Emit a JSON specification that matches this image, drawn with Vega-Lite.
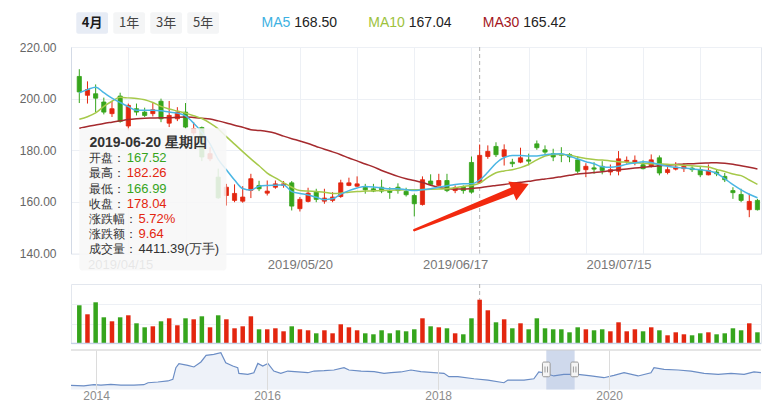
{
"$schema": "https://vega.github.io/schema/vega-lite/v6.json",
"padding": {"left": 18, "top": 0, "right": 0, "bottom": 0},
"spacing": 0,
"bounds": "flush",
"config": {"view": {"stroke": null}, "font": "Liberation Sans"},
"datasets": {
"k": [
{"d":"2019/04/08","o":208.6,"h":211.4,"l":198.3,"c":202.6,"v":3846,"m5":202.3,"m10":192.0,"m30":188.5},
{"d":"2019/04/09","o":201.3,"h":206.7,"l":198.1,"c":203.5,"v":2935,"m5":203.5,"m10":193.0,"m30":189.2},
{"d":"2019/04/10","o":201.9,"h":205.5,"l":194.8,"c":200.2,"v":4149,"m5":204.4,"m10":194.5,"m30":189.8},
{"d":"2019/04/11","o":198.7,"h":200.4,"l":193.9,"c":194.8,"v":2631,"m5":202.3,"m10":197.0,"m30":190.4},
{"d":"2019/04/12","o":194.2,"h":199.1,"l":192.9,"c":196.1,"v":2226,"m5":200.2,"m10":199.0,"m30":190.9},
{"d":"2019/04/15","o":201.0,"h":202.3,"l":190.7,"c":191.2,"v":2631,"m5":198.5,"m10":200.5,"m30":191.4},
{"d":"2019/04/16","o":189.4,"h":198.1,"l":187.7,"c":197.4,"v":2834,"m5":196.9,"m10":200.3,"m30":191.9},
{"d":"2019/04/17","o":196.1,"h":198.1,"l":193.5,"c":194.8,"v":2024,"m5":195.5,"m10":200.1,"m30":192.2},
{"d":"2019/04/18","o":194.8,"h":196.5,"l":192.9,"c":193.5,"v":1619,"m5":195.5,"m10":199.6,"m30":192.4},
{"d":"2019/04/19","o":194.2,"h":198.3,"l":193.1,"c":195.7,"v":1720,"m5":195.5,"m10":198.5,"m30":192.5},
{"d":"2019/04/22","o":199.0,"h":200.0,"l":190.9,"c":192.2,"v":2226,"m5":195.3,"m10":197.0,"m30":192.6},
{"d":"2019/04/23","o":190.5,"h":199.1,"l":189.0,"c":193.5,"v":2530,"m5":194.8,"m10":196.0,"m30":192.6},
{"d":"2019/04/24","o":192.2,"h":196.7,"l":191.3,"c":194.8,"v":1822,"m5":194.4,"m10":195.2,"m30":192.8},
{"d":"2019/04/25","o":194.8,"h":198.3,"l":188.4,"c":189.0,"v":2530,"m5":193.3,"m10":194.4,"m30":192.9},
{"d":"2019/04/26","o":186.7,"h":190.9,"l":185.8,"c":188.4,"v":2429,"m5":190.5,"m10":193.4,"m30":192.7},
{"d":"2019/04/29","o":188.8,"h":189.2,"l":175.8,"c":177.4,"v":2732,"m5":187.0,"m10":192.3,"m30":192.4},
{"d":"2019/04/30","o":176.7,"h":181.2,"l":175.8,"c":178.7,"v":1619,"m5":182.5,"m10":190.5,"m30":192.1},
{"d":"2019/05/06","o":169.6,"h":172.9,"l":161.2,"c":161.6,"v":2834,"m5":176.5,"m10":188.3,"m30":191.4},
{"d":"2019/05/07","o":162.5,"h":167.0,"l":158.6,"c":165.7,"v":2429,"m5":172.5,"m10":185.3,"m30":190.6},
{"d":"2019/05/08","o":160.6,"h":166.8,"l":159.9,"c":163.3,"v":1518,"m5":168.5,"m10":182.4,"m30":189.7},
{"d":"2019/05/09","o":160.3,"h":166.1,"l":159.7,"c":161.9,"v":1720,"m5":165.2,"m10":179.5,"m30":188.9},
{"d":"2019/05/10","o":164.5,"h":170.9,"l":161.5,"c":169.0,"v":2732,"m5":164.6,"m10":176.7,"m30":188.0},
{"d":"2019/05/13","o":166.4,"h":168.2,"l":164.2,"c":165.1,"v":1417,"m5":166.1,"m10":174.0,"m30":187.7},
{"d":"2019/05/14","o":163.4,"h":168.3,"l":162.5,"c":164.2,"v":1417,"m5":166.4,"m10":171.2,"m30":187.3},
{"d":"2019/05/15","o":165.7,"h":168.3,"l":165.1,"c":167.0,"v":1518,"m5":166.5,"m10":169.3,"m30":186.6},
{"d":"2019/05/16","o":166.4,"h":168.1,"l":165.5,"c":167.0,"v":1214,"m5":166.6,"m10":167.5,"m30":185.5},
{"d":"2019/05/17","o":167.4,"h":168.1,"l":156.7,"c":158.4,"v":1720,"m5":164.0,"m10":165.7,"m30":184.5},
{"d":"2019/05/20","o":157.4,"h":161.9,"l":156.3,"c":161.0,"v":1417,"m5":163.3,"m10":164.4,"m30":183.6},
{"d":"2019/05/21","o":160.2,"h":165.5,"l":159.8,"c":163.4,"v":1316,"m5":162.7,"m10":164.2,"m30":182.6},
{"d":"2019/05/22","o":163.8,"h":165.1,"l":159.9,"c":161.0,"v":1012,"m5":161.8,"m10":164.0,"m30":181.5},
{"d":"2019/05/23","o":160.3,"h":165.1,"l":159.3,"c":161.5,"v":1316,"m5":160.9,"m10":163.8,"m30":180.4},
{"d":"2019/05/24","o":160.6,"h":163.8,"l":159.9,"c":161.9,"v":1012,"m5":161.2,"m10":163.3,"m30":179.4},
{"d":"2019/05/27","o":162.1,"h":168.6,"l":161.6,"c":167.4,"v":1923,"m5":163.0,"m10":163.4,"m30":178.3},
{"d":"2019/05/28","o":166.4,"h":169.4,"l":166.1,"c":167.4,"v":1619,"m5":164.4,"m10":163.8,"m30":177.0},
{"d":"2019/05/29","o":166.1,"h":169.9,"l":165.7,"c":167.0,"v":1316,"m5":165.4,"m10":164.0,"m30":175.9},
{"d":"2019/05/30","o":165.7,"h":167.0,"l":163.2,"c":164.7,"v":1012,"m5":166.0,"m10":164.2,"m30":174.7},
{"d":"2019/05/31","o":165.1,"h":167.0,"l":163.8,"c":164.2,"v":911,"m5":165.8,"m10":164.3,"m30":173.6},
{"d":"2019/06/03","o":165.7,"h":168.6,"l":163.4,"c":164.2,"v":1316,"m5":165.4,"m10":164.4,"m30":172.2},
{"d":"2019/06/04","o":164.2,"h":165.7,"l":161.2,"c":163.7,"v":1012,"m5":165.1,"m10":164.5,"m30":171.0},
{"d":"2019/06/05","o":165.7,"h":167.2,"l":163.2,"c":164.4,"v":1316,"m5":165.1,"m10":164.6,"m30":169.9},
{"d":"2019/06/06","o":164.1,"h":165.5,"l":162.1,"c":162.8,"v":1214,"m5":164.7,"m10":164.7,"m30":169.0},
{"d":"2019/06/10","o":162.5,"h":163.2,"l":154.4,"c":159.3,"v":1417,"m5":164.4,"m10":164.7,"m30":168.3},
{"d":"2019/06/11","o":159.0,"h":169.9,"l":158.6,"c":168.6,"v":2530,"m5":164.7,"m10":164.8,"m30":167.5},
{"d":"2019/06/12","o":168.1,"h":170.7,"l":166.4,"c":166.8,"v":1720,"m5":165.1,"m10":164.9,"m30":166.5},
{"d":"2019/06/13","o":166.4,"h":170.9,"l":166.0,"c":168.3,"v":1619,"m5":165.7,"m10":165.0,"m30":165.6},
{"d":"2019/06/14","o":168.3,"h":170.9,"l":163.8,"c":164.4,"v":1518,"m5":166.3,"m10":165.1,"m30":165.2},
{"d":"2019/06/17","o":164.4,"h":166.4,"l":163.4,"c":165.5,"v":1012,"m5":166.8,"m10":165.5,"m30":165.0},
{"d":"2019/06/18","o":166.0,"h":166.4,"l":163.2,"c":164.4,"v":911,"m5":167.0,"m10":166.0,"m30":165.0},
{"d":"2019/06/19","o":175.3,"h":177.6,"l":163.2,"c":163.8,"v":2530,"m5":167.0,"m10":166.4,"m30":165.2},
{"d":"2019/06/20","o":167.52,"h":182.26,"l":166.99,"c":178.04,"v":4411.39,"m5":168.5,"m10":167.3,"m30":165.5},
{"d":"2019/06/21","o":177.6,"h":181.9,"l":176.7,"c":179.6,"v":3340,"m5":171.5,"m10":169.5,"m30":166.0},
{"d":"2019/06/24","o":181.5,"h":183.1,"l":177.4,"c":178.3,"v":2125,"m5":175.0,"m10":171.3,"m30":166.4},
{"d":"2019/06/25","o":177.6,"h":182.3,"l":174.1,"c":180.2,"v":2429,"m5":177.2,"m10":172.0,"m30":166.8},
{"d":"2019/06/26","o":175.4,"h":176.7,"l":173.5,"c":174.8,"v":1518,"m5":178.0,"m10":172.5,"m30":167.2},
{"d":"2019/06/27","o":175.4,"h":181.0,"l":175.0,"c":177.1,"v":2024,"m5":178.0,"m10":173.3,"m30":167.6},
{"d":"2019/06/28","o":176.3,"h":178.7,"l":174.2,"c":175.8,"v":1417,"m5":177.8,"m10":174.5,"m30":168.0},
{"d":"2019/07/01","o":182.5,"h":183.8,"l":180.2,"c":181.0,"v":2530,"m5":177.8,"m10":176.3,"m30":168.5},
{"d":"2019/07/02","o":180.2,"h":181.9,"l":178.4,"c":179.3,"v":1518,"m5":178.3,"m10":177.8,"m30":168.9},
{"d":"2019/07/03","o":178.7,"h":180.6,"l":175.8,"c":177.4,"v":1417,"m5":178.6,"m10":178.4,"m30":169.3},
{"d":"2019/07/04","o":178.5,"h":181.2,"l":175.4,"c":178.1,"v":1417,"m5":178.7,"m10":178.4,"m30":169.8},
{"d":"2019/07/05","o":178.4,"h":178.9,"l":175.4,"c":177.4,"v":1113,"m5":177.8,"m10":178.2,"m30":170.3},
{"d":"2019/07/08","o":176.3,"h":177.7,"l":171.0,"c":171.9,"v":1619,"m5":176.6,"m10":177.4,"m30":170.8},
{"d":"2019/07/09","o":172.5,"h":175.0,"l":169.6,"c":173.8,"v":1417,"m5":175.6,"m10":176.8,"m30":171.1},
{"d":"2019/07/10","o":173.2,"h":175.4,"l":170.9,"c":172.7,"v":1316,"m5":174.8,"m10":176.4,"m30":171.4},
{"d":"2019/07/11","o":173.8,"h":175.8,"l":170.7,"c":172.2,"v":1417,"m5":173.6,"m10":176.2,"m30":171.7},
{"d":"2019/07/12","o":171.6,"h":174.5,"l":170.3,"c":172.5,"v":1214,"m5":173.4,"m10":175.9,"m30":172.1},
{"d":"2019/07/15","o":171.9,"h":179.7,"l":170.3,"c":176.7,"v":2125,"m5":173.8,"m10":175.6,"m30":172.5},
{"d":"2019/07/16","o":175.7,"h":177.6,"l":174.8,"c":176.1,"v":1214,"m5":174.6,"m10":175.4,"m30":172.8},
{"d":"2019/07/17","o":175.2,"h":178.0,"l":174.2,"c":176.1,"v":1417,"m5":175.1,"m10":175.2,"m30":173.1},
{"d":"2019/07/18","o":174.4,"h":176.1,"l":172.6,"c":172.9,"v":1214,"m5":175.6,"m10":175.0,"m30":173.4},
{"d":"2019/07/19","o":173.8,"h":178.4,"l":173.3,"c":176.3,"v":1619,"m5":175.3,"m10":174.8,"m30":173.7},
{"d":"2019/07/22","o":177.1,"h":178.0,"l":170.3,"c":171.2,"v":1316,"m5":174.5,"m10":174.7,"m30":174.0},
{"d":"2019/07/23","o":171.4,"h":173.5,"l":170.7,"c":172.5,"v":810,"m5":173.8,"m10":174.6,"m30":174.3},
{"d":"2019/07/24","o":172.7,"h":175.4,"l":172.2,"c":173.5,"v":1113,"m5":173.4,"m10":174.4,"m30":174.5},
{"d":"2019/07/25","o":172.9,"h":175.0,"l":171.6,"c":173.8,"v":911,"m5":173.1,"m10":174.2,"m30":174.7},
{"d":"2019/07/26","o":173.1,"h":173.8,"l":171.6,"c":172.5,"v":810,"m5":172.8,"m10":174.0,"m30":174.8},
{"d":"2019/07/29","o":172.5,"h":173.5,"l":169.6,"c":170.5,"v":1012,"m5":172.5,"m10":173.8,"m30":175.0},
{"d":"2019/07/30","o":170.5,"h":174.5,"l":170.3,"c":172.2,"v":1113,"m5":172.1,"m10":173.5,"m30":175.1},
{"d":"2019/07/31","o":171.6,"h":172.5,"l":170.0,"c":170.9,"v":911,"m5":171.1,"m10":172.6,"m30":175.2},
{"d":"2019/08/01","o":169.9,"h":171.2,"l":167.7,"c":168.6,"v":1012,"m5":169.0,"m10":171.8,"m30":175.0},
{"d":"2019/08/02","o":164.4,"h":165.7,"l":161.2,"c":163.6,"v":1518,"m5":166.7,"m10":170.8,"m30":174.6},
{"d":"2019/08/05","o":162.9,"h":165.1,"l":159.9,"c":160.6,"v":1316,"m5":164.7,"m10":170.2,"m30":174.0},
{"d":"2019/08/06","o":157.0,"h":163.2,"l":154.1,"c":160.2,"v":2024,"m5":163.0,"m10":168.5,"m30":173.4},
{"d":"2019/08/07","o":160.6,"h":161.2,"l":156.7,"c":157.0,"v":1113,"m5":161.6,"m10":166.8,"m30":172.8}
],
"nav": [
{"t":"2013/09/16","v":43},{"t":"2013/11/10","v":37},{"t":"2013/12/23","v":51},{"t":"2014/01/22","v":47},{"t":"2014/03/05","v":54},{"t":"2014/04/17","v":47},{"t":"2014/06/12","v":47},{"t":"2014/07/24","v":51},{"t":"2014/08/11","v":72},{"t":"2014/09/22","v":80},{"t":"2014/11/04","v":91},{"t":"2014/11/25","v":108},{"t":"2014/12/08","v":234},{"t":"2014/12/21","v":277},{"t":"2015/01/28","v":259},{"t":"2015/02/23","v":242},{"t":"2015/03/25","v":296},{"t":"2015/04/16","v":367},{"t":"2015/05/19","v":378},{"t":"2015/06/18","v":396},{"t":"2015/07/09","v":288},{"t":"2015/08/08","v":252},{"t":"2015/08/29","v":234},{"t":"2015/09/03","v":173},{"t":"2015/10/11","v":162},{"t":"2015/11/06","v":180},{"t":"2015/11/23","v":280},{"t":"2015/12/14","v":252},{"t":"2016/01/05","v":280},{"t":"2016/01/30","v":198},{"t":"2016/02/29","v":173},{"t":"2016/03/30","v":198},{"t":"2016/05/13","v":188},{"t":"2016/06/24","v":180},{"t":"2016/07/20","v":198},{"t":"2016/09/01","v":202},{"t":"2016/10/13","v":209},{"t":"2016/11/25","v":234},{"t":"2016/12/16","v":209},{"t":"2017/02/06","v":198},{"t":"2017/04/03","v":191},{"t":"2017/05/15","v":173},{"t":"2017/06/14","v":180},{"t":"2017/07/26","v":188},{"t":"2017/09/07","v":209},{"t":"2017/10/19","v":191},{"t":"2017/12/14","v":180},{"t":"2018/01/26","v":173},{"t":"2018/02/16","v":137},{"t":"2018/03/26","v":137},{"t":"2018/06/03","v":115},{"t":"2018/08/02","v":101},{"t":"2018/10/09","v":72},{"t":"2018/10/26","v":101},{"t":"2019/01/03","v":101},{"t":"2019/02/14","v":115},{"t":"2019/03/07","v":188},{"t":"2019/03/28","v":180},{"t":"2019/05/10","v":145},{"t":"2019/06/22","v":162},{"t":"2019/08/21","v":162},{"t":"2019/10/16","v":145},{"t":"2019/12/10","v":126},{"t":"2020/01/22","v":151},{"t":"2020/03/05","v":180},{"t":"2020/05/04","v":145},{"t":"2020/06/28","v":180},{"t":"2020/07/11","v":234},{"t":"2020/08/23","v":216},{"t":"2020/10/22","v":209},{"t":"2020/12/16","v":198},{"t":"2021/02/10","v":173},{"t":"2021/04/11","v":162},{"t":"2021/06/05","v":173},{"t":"2021/07/31","v":162},{"t":"2021/09/11","v":188},{"t":"2021/10/11","v":180}
]
},
"vconcat": [
{
 "width": 690, "height": 46.7,
 "resolve": {"scale": {"x": "independent"}},
 "layer": [
  {
   "data": {"values": [{"t":"4月","s":true},{"t":"1年","s":false},{"t":"3年","s":false},{"t":"5年","s":false}]},
   "layer": [
    {"mark": {"type":"rect","cornerRadius":2},
     "encoding": {
      "x": {"field":"t","type":"nominal","scale":{"type":"band","domain":["4月","1年","3年","5年"],"range":[5.3,148],"paddingInner":0.143,"paddingOuter":0},"axis":null},
      "y": {"datum":"b","type":"nominal","scale":{"type":"band","domain":["b"],"paddingInner":0,"paddingOuter":0.591,"align":0.486},"axis":null},
      "fill": {"condition":{"test":"datum.s","value":"#e7ecf5"},"value":"#f4f5f6"}}},
    {"transform": [{"filter":"datum.s"}],
     "mark": {"type":"text","font":"Noto Sans CJK SC","fontSize":13,"fontWeight":"bold","color":"#1a1a1a"},
     "encoding": {
      "x": {"field":"t","type":"nominal","scale":{"type":"band","domain":["4月","1年","3年","5年"],"range":[5.3,148],"paddingInner":0.143,"paddingOuter":0},"axis":null},
      "y": {"datum":"b","type":"nominal","scale":{"type":"band","domain":["b"],"paddingInner":0,"paddingOuter":0.591,"align":0.486},"axis":null},
      "text": {"field":"t"}}},
    {"transform": [{"filter":"!datum.s"}],
     "mark": {"type":"text","font":"Noto Sans CJK SC","fontSize":13,"color":"#444444"},
     "encoding": {
      "x": {"field":"t","type":"nominal","scale":{"type":"band","domain":["4月","1年","3年","5年"],"range":[5.3,148],"paddingInner":0.143,"paddingOuter":0},"axis":null},
      "y": {"datum":"b","type":"nominal","scale":{"type":"band","domain":["b"],"paddingInner":0,"paddingOuter":0.591,"align":0.486},"axis":null},
      "text": {"field":"t"}}}
   ]
  },
  {
   "data": {"values": [{"k":"MA5","v":"168.50"},{"k":"MA10","v":"167.04"},{"k":"MA30","v":"165.42"}]},
   "layer": [
    {"mark": {"type":"text","align":"right","dx":-2,"fontSize":14},
     "encoding": {
      "x": {"field":"k","type":"nominal","scale":{"type":"point","domain":["MA5","MA10","MA30"],"range":[221.3,450.3],"padding":0},"axis":null},
      "y": {"datum":"b","type":"nominal","scale":{"type":"band","domain":["b"],"paddingInner":0,"paddingOuter":0.591,"align":0.486},"axis":null},
      "text": {"field":"k"},
      "color": {"field":"k","type":"nominal","scale":{"domain":["MA5","MA10","MA30"],"range":["#3db1e2","#9dc23c","#a3161d"]},"legend":null}}},
    {"mark": {"type":"text","align":"left","dx":2,"fontSize":14,"color":"#222222"},
     "encoding": {
      "x": {"field":"k","type":"nominal","scale":{"type":"point","domain":["MA5","MA10","MA30"],"range":[221.3,450.3],"padding":0},"axis":null},
      "y": {"datum":"b","type":"nominal","scale":{"type":"band","domain":["b"],"paddingInner":0,"paddingOuter":0.591,"align":0.486},"axis":null},
      "text": {"field":"v"}}}
   ]
  }
 ]
},
{
 "width": 690, "height": 206.6,
 "view": {"stroke": "#e3e7ee"},
 "data": {"name": "k"},
 "resolve": {"axis": {"x": "independent"}},
 "layer": [
  {"data": {"values": [{}]},
   "mark": {"type":"rule","color":"#b3b3b3","strokeDash":[4,3],"strokeWidth":1},
   "encoding": {"x": {"datum":"2019/06/20","type":"ordinal","scale":{"type":"point","padding":0.726,"align":0.7},"axis":null}}},
  {"mark": {"type":"rule","strokeWidth":1},
   "encoding": {
    "x": {"field":"d","type":"ordinal","scale":{"type":"point","padding":0.726,"align":0.7},
          "axis":{"orient":"top","values":["2019/04/16","2019/04/25","2019/05/09","2019/05/20","2019/05/29","2019/06/10","2019/06/19","2019/06/28","2019/07/09","2019/07/18","2019/07/29"],"grid":true,"gridColor":"#edf0f5","labels":false,"ticks":false,"domain":false,"title":null}},
    "y": {"field":"l","type":"quantitative","title":null,"scale":{"domain":[140,220],"nice":false,"zero":false},
          "axis":{"values":[140,160,180,200,220],"format":".2f","grid":true,"gridColor":"#edf0f5","domain":true,"domainColor":"#d3dae6","ticks":false,"labelPadding":15,"labelFontSize":12,"labelColor":"#666666","labelFlush":false,"title":null}},
    "y2": {"field":"h"},
    "color": {"condition":{"test":"datum.c >= datum.o","value":"#e3260f"},"value":"#36a51c"}}},
  {"mark": {"type":"bar","width":4.2,"strokeWidth":0.8},
   "encoding": {
    "x": {"field":"d","type":"ordinal","scale":{"type":"point","padding":0.726,"align":0.7},
          "axis":{"orient":"bottom","values":["2019/04/15","2019/05/20","2019/06/17","2019/07/15"],"grid":false,"ticks":false,"domain":false,"labelPadding":4.4,"labelFontSize":13,"labelColor":"#777777","labelAngle":0,"labelAlign":"center","labelBaseline":"top","title":null}},
    "y": {"field":"o","type":"quantitative","title":null,"scale":{"domain":[140,220],"nice":false,"zero":false}},
    "y2": {"field":"c"},
    "fill": {"condition":{"test":"datum.c >= datum.o","value":"#e3260f"},"value":"#36a51c"},
    "stroke": {"condition":{"test":"datum.c >= datum.o","value":"#e3260f"},"value":"#36a51c"}}},
  {"mark": {"type":"line","color":"#a52a2e","strokeWidth":1.5,"interpolate":"monotone"},
   "encoding": {
    "x": {"field":"d","type":"ordinal","scale":{"type":"point","padding":0.726,"align":0.7},"axis":null},
    "y": {"field":"m30","type":"quantitative","title":null,"scale":{"domain":[140,220],"nice":false,"zero":false}}}},
  {"mark": {"type":"line","color":"#a6c94a","strokeWidth":1.5,"interpolate":"monotone"},
   "encoding": {
    "x": {"field":"d","type":"ordinal","scale":{"type":"point","padding":0.726,"align":0.7},"axis":null},
    "y": {"field":"m10","type":"quantitative","title":null,"scale":{"domain":[140,220],"nice":false,"zero":false}}}},
  {"mark": {"type":"line","color":"#4ab6e4","strokeWidth":1.5,"interpolate":"monotone"},
   "encoding": {
    "x": {"field":"d","type":"ordinal","scale":{"type":"point","padding":0.726,"align":0.7},"axis":null},
    "y": {"field":"m5","type":"quantitative","title":null,"scale":{"domain":[140,220],"nice":false,"zero":false}}}},
  {"data": {"values": [{"d":"2019/06/10","p":149.1},{"d":"2019/06/26","p":164.3}]},
   "mark": {"type":"trail","color":"#f2290f"},
   "encoding": {
    "x": {"field":"d","type":"ordinal","scale":{"type":"point","padding":0.726,"align":0.7},"axis":null},
    "y": {"field":"p","type":"quantitative","title":null,"scale":{"domain":[140,220],"nice":false,"zero":false}},
    "size": {"field":"p","type":"quantitative","scale":{"domain":[149.1,164.3],"range":[2.5,7]},"legend":null}}},
  {"data": {"values": [{}]},
   "mark": {"type":"point","shape":"triangle-up","angle":67,"size":420,"filled":true,"color":"#f2290f","opacity":1},
   "encoding": {
    "x": {"datum":"2019/06/27","type":"ordinal","scale":{"type":"point","padding":0.726,"align":0.7},"axis":null},
    "y": {"datum":165.6,"type":"quantitative","title":null,"scale":{"domain":[140,220],"nice":false,"zero":false}}}},
  {"data": {"values": [{}]},
   "mark": {"type":"rect","color":"#f7f7f7","opacity":0.87,"cornerRadius":3},
   "encoding": {
    "x": {"datum":"2019/04/08","type":"ordinal","scale":{"type":"point","padding":0.726,"align":0.7},"axis":null},
    "x2": {"datum":"2019/05/07"},
    "y": {"datum":188.5,"type":"quantitative","title":null,"scale":{"domain":[140,220],"nice":false,"zero":false}},
    "y2": {"datum":133.5}}},
  {"data": {"values": [{}]},
   "mark": {"type":"text","text":"2019-06-20 星期四","align":"left","baseline":"top","dx":2,"font":"Liberation Sans","fontSize":14,"fontWeight":"bold","color":"#333333"},
   "encoding": {
    "x": {"datum":"2019/04/09","type":"ordinal","scale":{"type":"point","padding":0.726,"align":0.7},"axis":null},
    "y": {"datum":185.5,"type":"quantitative","title":null,"scale":{"domain":[140,220],"nice":false,"zero":false}}}},
  {"data": {"values": [{}]},
   "mark": {"type":"text","text":"开盘：","align":"left","baseline":"top","dx":2,"font":"Liberation Sans","fontSize":12.3,"color":"#333333"},
   "encoding": {
    "x": {"datum":"2019/04/09","type":"ordinal","scale":{"type":"point","padding":0.726,"align":0.7},"axis":null},
    "y": {"datum":179.3,"type":"quantitative","title":null,"scale":{"domain":[140,220],"nice":false,"zero":false}}}},
  {"data": {"values": [{}]},
   "mark": {"type":"text","text":"最高：","align":"left","baseline":"top","dx":2,"font":"Liberation Sans","fontSize":12.3,"color":"#333333"},
   "encoding": {
    "x": {"datum":"2019/04/09","type":"ordinal","scale":{"type":"point","padding":0.726,"align":0.7},"axis":null},
    "y": {"datum":173.41,"type":"quantitative","title":null,"scale":{"domain":[140,220],"nice":false,"zero":false}}}},
  {"data": {"values": [{}]},
   "mark": {"type":"text","text":"最低：","align":"left","baseline":"top","dx":2,"font":"Liberation Sans","fontSize":12.3,"color":"#333333"},
   "encoding": {
    "x": {"datum":"2019/04/09","type":"ordinal","scale":{"type":"point","padding":0.726,"align":0.7},"axis":null},
    "y": {"datum":167.53,"type":"quantitative","title":null,"scale":{"domain":[140,220],"nice":false,"zero":false}}}},
  {"data": {"values": [{}]},
   "mark": {"type":"text","text":"收盘：","align":"left","baseline":"top","dx":2,"font":"Liberation Sans","fontSize":12.3,"color":"#333333"},
   "encoding": {
    "x": {"datum":"2019/04/09","type":"ordinal","scale":{"type":"point","padding":0.726,"align":0.7},"axis":null},
    "y": {"datum":161.64,"type":"quantitative","title":null,"scale":{"domain":[140,220],"nice":false,"zero":false}}}},
  {"data": {"values": [{}]},
   "mark": {"type":"text","text":"涨跌幅：","align":"left","baseline":"top","dx":2,"font":"Liberation Sans","fontSize":12.3,"color":"#333333"},
   "encoding": {
    "x": {"datum":"2019/04/09","type":"ordinal","scale":{"type":"point","padding":0.726,"align":0.7},"axis":null},
    "y": {"datum":155.76,"type":"quantitative","title":null,"scale":{"domain":[140,220],"nice":false,"zero":false}}}},
  {"data": {"values": [{}]},
   "mark": {"type":"text","text":"涨跌额：","align":"left","baseline":"top","dx":2,"font":"Liberation Sans","fontSize":12.3,"color":"#333333"},
   "encoding": {
    "x": {"datum":"2019/04/09","type":"ordinal","scale":{"type":"point","padding":0.726,"align":0.7},"axis":null},
    "y": {"datum":149.87,"type":"quantitative","title":null,"scale":{"domain":[140,220],"nice":false,"zero":false}}}},
  {"data": {"values": [{}]},
   "mark": {"type":"text","text":"成交量：","align":"left","baseline":"top","dx":2,"font":"Liberation Sans","fontSize":12.3,"color":"#333333"},
   "encoding": {
    "x": {"datum":"2019/04/09","type":"ordinal","scale":{"type":"point","padding":0.726,"align":0.7},"axis":null},
    "y": {"datum":143.98,"type":"quantitative","title":null,"scale":{"domain":[140,220],"nice":false,"zero":false}}}},
  {"data": {"values": [{}]},
   "mark": {"type":"text","text":"167.52","align":"left","baseline":"top","dx":-1.5,"font":"Liberation Sans","fontSize":13,"color":"#36a51c"},
   "encoding": {
    "x": {"datum":"2019/04/16","type":"ordinal","scale":{"type":"point","padding":0.726,"align":0.7},"axis":null},
    "y": {"datum":179.3,"type":"quantitative","title":null,"scale":{"domain":[140,220],"nice":false,"zero":false}}}},
  {"data": {"values": [{}]},
   "mark": {"type":"text","text":"182.26","align":"left","baseline":"top","dx":-1.5,"font":"Liberation Sans","fontSize":13,"color":"#e3260f"},
   "encoding": {
    "x": {"datum":"2019/04/16","type":"ordinal","scale":{"type":"point","padding":0.726,"align":0.7},"axis":null},
    "y": {"datum":173.41,"type":"quantitative","title":null,"scale":{"domain":[140,220],"nice":false,"zero":false}}}},
  {"data": {"values": [{}]},
   "mark": {"type":"text","text":"166.99","align":"left","baseline":"top","dx":-1.5,"font":"Liberation Sans","fontSize":13,"color":"#36a51c"},
   "encoding": {
    "x": {"datum":"2019/04/16","type":"ordinal","scale":{"type":"point","padding":0.726,"align":0.7},"axis":null},
    "y": {"datum":167.53,"type":"quantitative","title":null,"scale":{"domain":[140,220],"nice":false,"zero":false}}}},
  {"data": {"values": [{}]},
   "mark": {"type":"text","text":"178.04","align":"left","baseline":"top","dx":-1.5,"font":"Liberation Sans","fontSize":13,"color":"#e3260f"},
   "encoding": {
    "x": {"datum":"2019/04/16","type":"ordinal","scale":{"type":"point","padding":0.726,"align":0.7},"axis":null},
    "y": {"datum":161.64,"type":"quantitative","title":null,"scale":{"domain":[140,220],"nice":false,"zero":false}}}},
  {"data": {"values": [{}]},
   "mark": {"type":"text","text":"5.72%","align":"left","baseline":"top","dx":2,"font":"Liberation Sans","fontSize":13,"color":"#e3260f"},
   "encoding": {
    "x": {"datum":"2019/04/17","type":"ordinal","scale":{"type":"point","padding":0.726,"align":0.7},"axis":null},
    "y": {"datum":155.76,"type":"quantitative","title":null,"scale":{"domain":[140,220],"nice":false,"zero":false}}}},
  {"data": {"values": [{}]},
   "mark": {"type":"text","text":"9.64","align":"left","baseline":"top","dx":2,"font":"Liberation Sans","fontSize":13,"color":"#e3260f"},
   "encoding": {
    "x": {"datum":"2019/04/17","type":"ordinal","scale":{"type":"point","padding":0.726,"align":0.7},"axis":null},
    "y": {"datum":149.87,"type":"quantitative","title":null,"scale":{"domain":[140,220],"nice":false,"zero":false}}}},
  {"data": {"values": [{}]},
   "mark": {"type":"text","text":"4411.39(万手)","align":"left","baseline":"top","dx":2,"font":"Liberation Sans","fontSize":13,"color":"#333333"},
   "encoding": {
    "x": {"datum":"2019/04/17","type":"ordinal","scale":{"type":"point","padding":0.726,"align":0.7},"axis":null},
    "y": {"datum":143.98,"type":"quantitative","title":null,"scale":{"domain":[140,220],"nice":false,"zero":false}}}}
 ]
},
{"width": 690, "height": 29.4, "data": {"values": []}, "mark": "point", "encoding": {}},
{
 "width": 690, "height": 59.3,
 "view": {"stroke": "#e3e7ee"},
 "data": {"name": "k"},
 "layer": [
  {"data": {"values": [{}]},
   "mark": {"type":"rule","color":"#b3b3b3","strokeDash":[4,3],"strokeWidth":1},
   "encoding": {"x": {"datum":"2019/06/20","type":"ordinal","scale":{"type":"point","padding":0.726,"align":0.7},"axis":null}}},
  {"mark": {"type":"bar","width":4.5},
   "encoding": {
    "x": {"field":"d","type":"ordinal","scale":{"type":"point","padding":0.726,"align":0.7},"axis":null},
    "y": {"field":"v","type":"quantitative","title":null,"scale":{"domain":[0,6000],"nice":false},
          "axis":{"values":[2000,4000],"grid":true,"gridColor":"#edf0f5","labels":false,"ticks":false,"domain":false,"title":null}},
    "color": {"condition":{"test":"datum.c >= datum.o","value":"#e3260f"},"value":"#36a51c"}}},
  {"data": {"values": [{}]},
   "mark": {"type":"rule","color":"#c5d1e6","strokeWidth":1.2},
   "encoding": {"y": {"datum":0,"type":"quantitative","title":null,"scale":{"domain":[0,6000],"nice":false}}}}
 ]
},
{"width": 690, "height": 5.3, "data": {"values": []}, "mark": "point", "encoding": {}},
{
 "width": 690, "height": 39.4,
 "layer": [
  {"data": {"name": "nav"},
   "mark": {"type":"area","color":"#eef2f9"},
   "encoding": {
    "x": {"field":"t","type":"temporal","title":null,"scale":{"domain":[{"year":2013,"month":9,"date":16},{"year":2021,"month":10,"date":11}]},
          "axis":{"values":[{"year":2014},{"year":2016},{"year":2018},{"year":2020}],"format":"%Y","grid":true,"gridColor":"#dcdcdc","ticks":false,"domain":false,"labelPadding":1.5,"labelFontSize":12,"labelColor":"#8c8c8c","labelFlush":false,"title":null,"zindex":1}},
    "y": {"field":"v","type":"quantitative","scale":{"domain":[0,425],"nice":false},"axis":null}}},
  {"data": {"values": [{}]},
   "mark": {"type":"rect","color":"#c3cfe7","opacity":0.8},
   "encoding": {
    "x": {"datum":{"year":2019,"month":4,"date":8},"type":"temporal","title":null},
    "x2": {"datum":{"year":2019,"month":8,"date":7}},
    "y": {"datum":0,"type":"quantitative","axis":null},
    "y2": {"datum":425}}},
  {"data": {"name": "nav"},
   "mark": {"type":"line","color":"#6b8dc5","strokeWidth":1.2},
   "encoding": {
    "x": {"field":"t","type":"temporal","title":null},
    "y": {"field":"v","type":"quantitative","axis":null}}},
  {"data": {"values": [{}]},
   "mark": {"type":"rule","color":"#cccccc","strokeWidth":1},
   "encoding": {"y": {"datum":425,"type":"quantitative","axis":null}}},
  {"data": {"values": [{"t":"2019/04/08"},{"t":"2019/08/07"}]},
   "mark": {"type":"tick","orient":"vertical","thickness":7.7,"size":14.7,"color":"#f5f5f5","stroke":"#999999","strokeWidth":1,"cornerRadius":1.5,"opacity":1},
   "encoding": {
    "x": {"field":"t","type":"temporal","title":null},
    "y": {"datum":215.7,"type":"quantitative","axis":null}}},
  {"data": {"values": [{"t":"2019/04/08"},{"t":"2019/08/07"}]},
   "mark": {"type":"tick","orient":"vertical","thickness":0.8,"size":6,"color":"#888888","xOffset":-1.3,"opacity":1},
   "encoding": {
    "x": {"field":"t","type":"temporal","title":null},
    "y": {"datum":215.7,"type":"quantitative","axis":null}}},
  {"data": {"values": [{"t":"2019/04/08"},{"t":"2019/08/07"}]},
   "mark": {"type":"tick","orient":"vertical","thickness":0.8,"size":6,"color":"#888888","xOffset":1.3,"opacity":1},
   "encoding": {
    "x": {"field":"t","type":"temporal","title":null},
    "y": {"datum":215.7,"type":"quantitative","axis":null}}}
 ]
}
]
}
